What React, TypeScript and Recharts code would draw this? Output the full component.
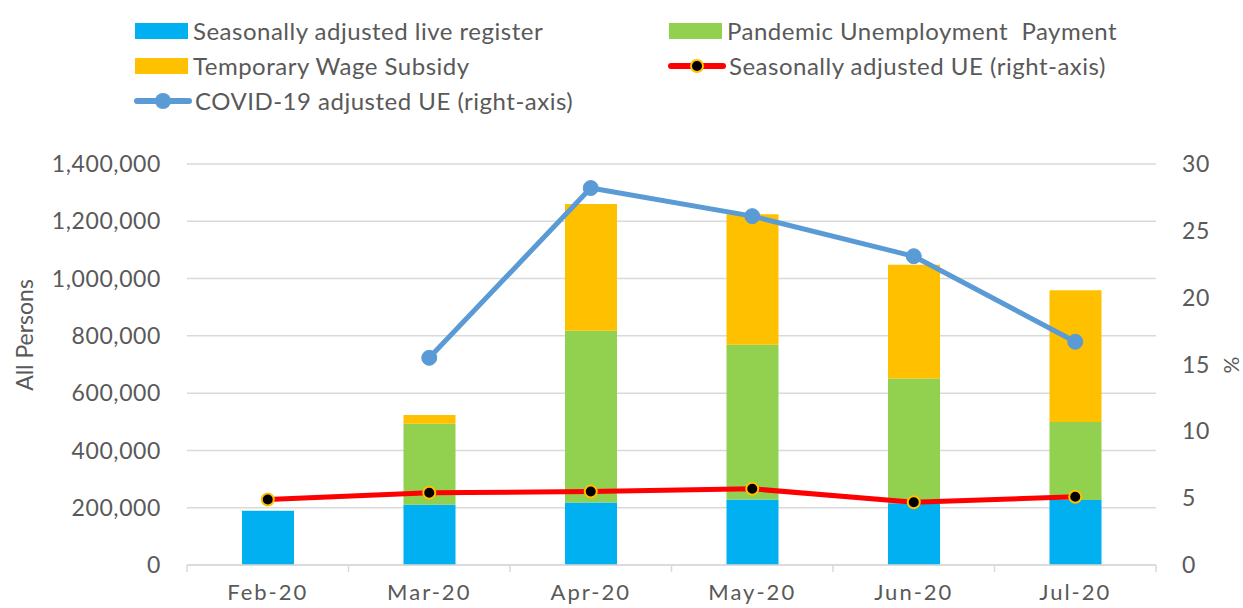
import { Bar, ComposedChart, Line, XAxis, YAxis, CartesianGrid, Label } from "recharts"

const months = ["Feb-20", "Mar-20", "Apr-20", "May-20", "Jun-20", "Jul-20"]
const liveRegister = [189000, 210000, 218000, 229000, 216000, 227000]
const pandemicPayment = [null, 283000, 600000, 540000, 435000, 272000]
const wageSubsidy = [null, 31000, 442000, 456000, 397000, 460000]
const seasonalUE = [4.9, 5.4, 5.5, 5.7, 4.7, 5.1]
const covidUE = [null, 15.5, 28.2, 26.1, 23.1, 16.7]

const leftTicks = [0, 200000, 400000, 600000, 800000, 1000000, 1200000, 1400000]
const rightTicks = [0, 5, 10, 15, 20, 25, 30]

const data = months.map((m, i) => ({
  month: m,
  lr: liveRegister[i],
  pup: pandemicPayment[i],
  tws: wageSubsidy[i],
  sa: seasonalUE[i],
  covid: covidUE[i],
}))

const FONT = "Lato, 'Open Sans', sans-serif"
const GREY = "#595959"
const GRID = "#d9d9d9"

const legendItems = [
  { label: "Seasonally adjusted live register", kind: "bar", color: "#00b0f0" },
  { label: "Pandemic Unemployment  Payment", kind: "bar", color: "#92d050" },
  { label: "Temporary Wage Subsidy", kind: "bar", color: "#ffc000" },
  { label: "Seasonally adjusted UE (right-axis)", kind: "red", color: "#ff0000" },
  { label: "COVID-19 adjusted UE (right-axis)", kind: "blue", color: "#5b9bd5" },
]

function LegendIcon({ kind, color }: { kind: string; color: string }) {
  if (kind === "bar") {
    return (
      <svg width={56} height={18} style={{ display: "block" }}>
        <rect x={1} y={1} width={53} height={16} fill={color} />
      </svg>
    )
  }
  return (
    <svg width={58} height={18} style={{ display: "block" }}>
      <line x1={3} x2={55} y1={9} y2={9} stroke={color} strokeWidth={6} strokeLinecap="round" />
      {kind === "red" ? (
        <circle cx={29} cy={9} r={6} fill="#000" stroke="#ffc000" strokeWidth={2} />
      ) : (
        <circle cx={29} cy={9} r={8} fill={color} />
      )}
    </svg>
  )
}

function ChartLegend() {
  return (
    <div
      style={{
        position: "absolute",
        left: 134,
        top: 13,
        display: "grid",
        gridTemplateColumns: "534px auto",
        gridAutoRows: "35px",
        fontFamily: FONT,
        fontSize: 24,
        letterSpacing: 0.5,
        color: GREY,
      }}
    >
      {legendItems.map((it) => (
        <div key={it.label} style={{ display: "flex", alignItems: "center", whiteSpace: "pre" }}>
          <LegendIcon kind={it.kind} color={it.color} />
          <span style={{ marginLeft: 3 }}>{it.label}</span>
        </div>
      ))}
    </div>
  )
}

function MonthTick(props: any) {
  const { x, y, payload, index } = props
  const off = payload.offset ?? 80.75
  return (
    <g>
      <line x1={x - off} x2={x - off} y1={y - 19} y2={y - 12} stroke={GRID} strokeWidth={1.5} />
      {index === months.length - 1 && (
        <line x1={x + off} x2={x + off} y1={y - 19} y2={y - 12} stroke={GRID} strokeWidth={1.5} />
      )}
      <text
        x={x}
        y={y}
        dy="0.71em"
        textAnchor="middle"
        fill={GREY}
        fontSize={22}
        letterSpacing={2}
        fontFamily={FONT}
      >
        {payload.value}
      </text>
    </g>
  )
}

export default function App() {
  return (
    <div style={{ position: "absolute", left: 0, top: 0, width: 1243, height: 608, background: "#fff" }}>
      <ChartLegend />
      <ComposedChart
        width={1243}
        height={608}
        data={data}
        margin={{ top: 164, right: 0, bottom: 0, left: 37 }}
      >
        <CartesianGrid yAxisId="left" vertical={false} stroke={GRID} strokeWidth={1.5} />
        <XAxis
          dataKey="month"
          height={43}
          tickSize={0}
          tickMargin={19}
          tickLine={false}
          axisLine={{ stroke: GRID, strokeWidth: 1.5 }}
          tick={<MonthTick />}
        />
        <YAxis
          yAxisId="left"
          width={150}
          domain={[0, 1400000]}
          ticks={leftTicks}
          tickSize={0}
          tickMargin={26}
          tickLine={false}
          axisLine={false}
          tick={{ fill: GREY, fontSize: 23, fontFamily: FONT, letterSpacing: 0.6 }}
          tickFormatter={(v) => v.toLocaleString("en-US")}
        >
          <Label
            content={() => (
              <text
                x={24}
                y={335}
                transform="rotate(-90 24 335)"
                textAnchor="middle"
                dominantBaseline="central"
                fill={GREY}
                fontSize={23}
                fontFamily={FONT}
              >
                All Persons
              </text>
            )}
          />
        </YAxis>
        <YAxis
          yAxisId="right"
          orientation="right"
          width={87}
          domain={[0, 30]}
          ticks={rightTicks}
          tickSize={0}
          tickMargin={26}
          tickLine={false}
          axisLine={false}
          tick={{ fill: GREY, fontSize: 23, fontFamily: FONT, textAnchor: "start", letterSpacing: 0.6 }}
        >
          <Label
            content={() => (
              <text
                x={1230}
                y={365}
                transform="rotate(-90 1230 365)"
                textAnchor="middle"
                dominantBaseline="central"
                fill={GREY}
                fontSize={21}
                fontFamily={FONT}
              >
                %
              </text>
            )}
          />
        </YAxis>
        <Bar yAxisId="left" dataKey="lr" stackId="a" fill="#00b0f0" barSize={52} isAnimationActive={false} />
        <Bar yAxisId="left" dataKey="pup" stackId="a" fill="#92d050" barSize={52} isAnimationActive={false} />
        <Bar yAxisId="left" dataKey="tws" stackId="a" fill="#ffc000" barSize={52} isAnimationActive={false} />
        <Line
          yAxisId="right"
          dataKey="sa"
          stroke="#ff0000"
          strokeWidth={5}
          dot={{ r: 6, fill: "#000", stroke: "#ffc000", strokeWidth: 2 }}
          activeDot={false}
          isAnimationActive={false}
        />
        <Line
          yAxisId="right"
          dataKey="covid"
          stroke="#5b9bd5"
          strokeWidth={5}
          dot={{ r: 7.5, fill: "#5b9bd5", stroke: "#5b9bd5", strokeWidth: 1 }}
          activeDot={false}
          isAnimationActive={false}
        />
      </ComposedChart>
    </div>
  )
}
